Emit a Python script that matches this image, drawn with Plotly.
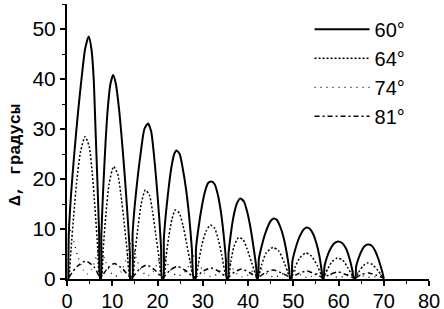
import plotly.graph_objects as go

# ---- data ----
x60 = [0.3, 0.4, 0.9, 1.6, 2.4, 3.2, 4.0, 4.8, 5.4, 5.9, 6.3, 6.7, 7.1, 7.3,
       7.5, 7.6, 8.0, 8.5, 9.0, 9.6, 10.2, 10.8, 11.5, 12.2, 12.9, 13.5, 13.9, 14.0,
       14.4, 14.5, 15.0, 15.7, 16.4, 17.1, 17.9, 18.6, 19.2, 19.8, 20.4, 20.8, 21.0,
       21.3, 21.4, 21.9, 22.5, 23.1, 23.7, 24.2, 24.9, 25.6, 26.3, 27.0, 27.6, 28.0,
       28.4, 28.5, 29.1, 29.8, 30.5, 31.2, 31.9, 32.6, 33.3, 34.0, 34.6, 35.1, 35.3,
       35.6, 35.7, 36.2, 36.8, 37.5, 38.3, 39.1, 39.8, 40.5, 41.2, 41.8, 42.0,
       42.2, 42.4, 43.0, 43.7, 44.4, 45.0, 45.7, 46.4, 47.1, 47.8, 48.5, 49.1, 49.3,
       49.6, 49.8, 50.4, 51.1, 51.8, 52.4, 53.0, 53.7, 54.4, 55.1, 55.8, 56.3, 56.5,
       56.7, 56.9, 57.5, 58.2, 58.9, 59.9, 60.8, 61.6, 62.3, 63.0, 63.4,
       63.7, 63.9, 64.5, 65.2, 65.8, 66.5, 67.3, 68.0, 68.7, 69.4, 69.9, 70.0]
y60 = [0, 9, 17, 25, 33, 40, 46, 48.5, 46, 40, 30, 20, 9, 0,
       0, 9, 18, 27, 34, 39, 40.8, 39, 34, 27, 19, 11, 5, 0,
       0, 9, 15, 21, 26, 30, 31.1, 29.5, 25, 19, 12, 6, 0,
       0, 8, 13.5, 18.5, 22.5, 25, 25.7, 25, 22, 18, 12.5, 6, 0,
       0, 6, 10.5, 14.5, 17.5, 19.2, 19.5, 19, 17, 13.5, 9, 4, 0,
       0, 5, 9, 12.5, 15, 16.1, 15.5, 13.5, 10.5, 6.5, 2.5, 0,
       0, 4, 6.5, 8.8, 10.5, 11.6, 12.1, 11.8, 10.5, 8.5, 5.5, 2, 0,
       0, 3.5, 5.8, 7.8, 9.2, 10, 10.3, 10, 9, 7.2, 4.5, 1.5, 0,
       0, 2.5, 4.5, 6, 7, 7.5, 7.2, 6.2, 4.5, 2, 0,
       0, 2.5, 4.3, 5.8, 6.6, 6.9, 6.7, 5.8, 4.3, 2.3, 0.6, 0]

x64 = [0.5, 0.9, 1.5, 2.2, 3.0, 4.0, 4.9, 5.6, 6.2, 6.8, 7.2,
       7.6, 8.0, 8.6, 9.3, 10.3, 11.2, 11.9, 12.6, 13.3, 13.9,
       14.5, 15.0, 15.7, 16.4, 17.3, 18.2, 18.9, 19.6, 20.3, 20.9,
       21.4, 21.9, 22.5, 23.2, 23.9, 24.8, 25.6, 26.4, 27.2, 27.9,
       28.5, 29.1, 29.8, 30.7, 31.7, 32.6, 33.4, 34.2, 35.2,
       35.7, 36.2, 36.9, 37.9, 38.9, 39.8, 40.8, 41.9,
       42.3, 43.0, 44.0, 45.5, 46.8, 48.0, 49.2,
       49.7, 50.4, 51.5, 52.8, 54.0, 55.3, 56.4,
       56.8, 57.6, 58.6, 59.7, 60.9, 62.1, 63.3,
       63.8, 64.6, 65.5, 66.4, 67.5, 68.7, 69.9]
y64 = [0.5, 6, 13, 20, 25.5, 28.5, 26.5, 21, 14, 6, 0.5,
       0.5, 6, 13, 19, 22.5, 21, 17, 11.5, 5.5, 0.5,
       0.5, 5, 10.5, 15, 17.8, 16.8, 13.5, 9, 4.5, 0.5,
       0.5, 4.5, 8.5, 12, 13.8, 13.2, 10.8, 7.3, 3.5, 0.5,
       0.5, 3.5, 6.8, 9.5, 10.8, 10.2, 8, 4.8, 0.5,
       0.5, 3.5, 6.5, 8.3, 7.9, 6, 3.3, 0.5,
       0.5, 2.8, 5.2, 6.3, 5.6, 3.3, 0.5,
       0.5, 2.4, 4.3, 5.2, 4.6, 2.7, 0.5,
       0.5, 2, 3.5, 4.2, 3.8, 2.2, 0.4,
       0.4, 1.6, 2.7, 3.2, 2.9, 1.7, 0.3]

x74 = [0.3, 1.2, 2.4, 3.6, 4.5, 5.5, 6.5, 7.4,
       8.3, 9.5, 10.7, 12.0, 13.3, 14.3,
       15.2, 16.4, 17.7, 19.0, 20.2, 21.1,
       22.0, 23.2, 24.4, 25.8, 27.2, 28.3,
       29.2, 30.4, 31.8, 33.2, 34.5, 35.5,
       36.4, 37.6, 38.8, 40.2, 41.3, 42.1,
       43.0, 44.3, 45.8, 47.3, 48.6, 49.5,
       50.4, 51.7, 53.1, 54.6, 55.8, 56.7,
       57.6, 58.8, 60.1, 61.4, 62.6, 63.6,
       64.5, 65.7, 67.0, 68.3, 69.3, 70.0]
y74 = [11.0, 8.5, 4.5, 1.8, 1.0, 2.0, 4.5, 6.5,
       4.0, 1.5, 0.5, 1.5, 4.5, 8.0,
       4.5, 1.8, 0.6, 1.5, 3.5, 5.5,
       3.5, 1.4, 0.6, 1.2, 3.0, 5.0,
       3.0, 1.2, 0.5, 1.0, 2.4, 3.8,
       2.4, 1.0, 0.4, 0.9, 2.0, 3.2,
       2.0, 0.9, 0.4, 0.8, 1.7, 2.6,
       1.7, 0.8, 0.3, 0.7, 1.4, 2.1,
       1.4, 0.6, 0.3, 0.6, 1.2, 1.7,
       1.1, 0.5, 0.3, 0.5, 0.9, 1.2]

x81 = [0.4, 2.2, 4.2, 6.0, 7.3,
       7.5, 9.0, 10.5, 12.3, 14.0,
       14.4, 16.0, 17.6, 19.3, 21.0,
       21.3, 22.8, 24.4, 26.2, 28.0,
       28.4, 30.1, 31.8, 33.6, 35.3,
       35.6, 37.0, 38.6, 40.3, 42.0,
       42.2, 43.9, 45.6, 47.5, 49.3,
       49.6, 51.2, 53.0, 54.8, 56.5,
       56.7, 58.3, 59.9, 61.6, 63.4,
       63.7, 65.1, 66.6, 68.3, 70.0]
y81 = [0.3, 2.5, 3.6, 2.4, 0.3,
       0.3, 2.2, 3.1, 2.0, 0.3,
       0.3, 2.0, 2.8, 1.9, 0.3,
       0.3, 1.8, 2.5, 1.7, 0.3,
       0.3, 1.6, 2.2, 1.5, 0.3,
       0.3, 1.4, 2.0, 1.3, 0.3,
       0.3, 1.3, 1.8, 1.2, 0.3,
       0.3, 1.1, 1.6, 1.0, 0.3,
       0.3, 1.0, 1.4, 0.9, 0.2,
       0.2, 0.9, 1.2, 0.8, 0.2]

names = ["60°", "64°", "74°", "81°"]
x_ticks = [0, 10, 20, 30, 40, 50, 60, 70, 80]
y_ticks = [0, 10, 20, 30, 40, 50]

FONT = "Liberation Sans, Arial, sans-serif"

fig = go.Figure()
fig.add_trace(go.Scatter(x=x60, y=y60, mode="lines", name=names[0],
                         line=dict(color="black", width=2, shape="spline", smoothing=0.6)))
fig.add_trace(go.Scatter(x=x64, y=y64, mode="lines", name=names[1],
                         line=dict(color="black", width=1.5, dash="2px,2px", shape="spline", smoothing=0.6)))
fig.add_trace(go.Scatter(x=x74, y=y74, mode="lines", name=names[2],
                         line=dict(color="black", width=1.2, dash="1px,5px", shape="spline", smoothing=0.6)))
fig.add_trace(go.Scatter(x=x81, y=y81, mode="lines", name=names[3],
                         line=dict(color="black", width=1.5, dash="5px,3px,2px,3px", shape="spline", smoothing=0.6)))

axis_common = dict(showgrid=False, zeroline=False, showline=True, linecolor="black",
                   linewidth=2, ticks="outside", ticklen=5, tickwidth=2, tickcolor="black",
                   automargin=False)

fig.update_xaxes(range=[0, 80], tickvals=x_ticks, ticktext=[str(v) for v in x_ticks],
                 ticklabelstandoff=-2,
                 tickfont=dict(family=FONT, size=20, color="black"),
                 minor=dict(ticks="outside", ticklen=3, tickwidth=1, dtick=5, tick0=0, tickcolor="black"),
                 **axis_common)
fig.update_yaxes(range=[0, 55], tickvals=y_ticks, ticktext=[str(v) for v in y_ticks],
                 tickfont=dict(family=FONT, size=21, color="black"),
                 minor=dict(ticks="outside", ticklen=3, tickwidth=1, dtick=5, tick0=0, tickcolor="black"),
                 **axis_common)

fig.add_annotation(text="<b>Δ, градусы</b>", textangle=-90, xref="paper", yref="paper",
                   x=-0.142, y=0.45, xanchor="center", yanchor="middle", showarrow=False,
                   font=dict(family="Liberation Mono, Courier New, monospace", size=17, color="black"))

fig.update_layout(
    width=444, height=309,
    margin=dict(l=67, r=15, t=4, b=30, autoexpand=False),
    paper_bgcolor="white", plot_bgcolor="white",
    showlegend=True,
    legend=dict(x=0.67, y=0.979, xanchor="left", yanchor="top", bgcolor="rgba(0,0,0,0)",
                font=dict(family=FONT, size=20, color="black"), itemwidth=55,
                borderwidth=0),
)

fig.write_html("out.html", config={"displayModeBar": False},
               post_script="document.body.style.margin='0';")
